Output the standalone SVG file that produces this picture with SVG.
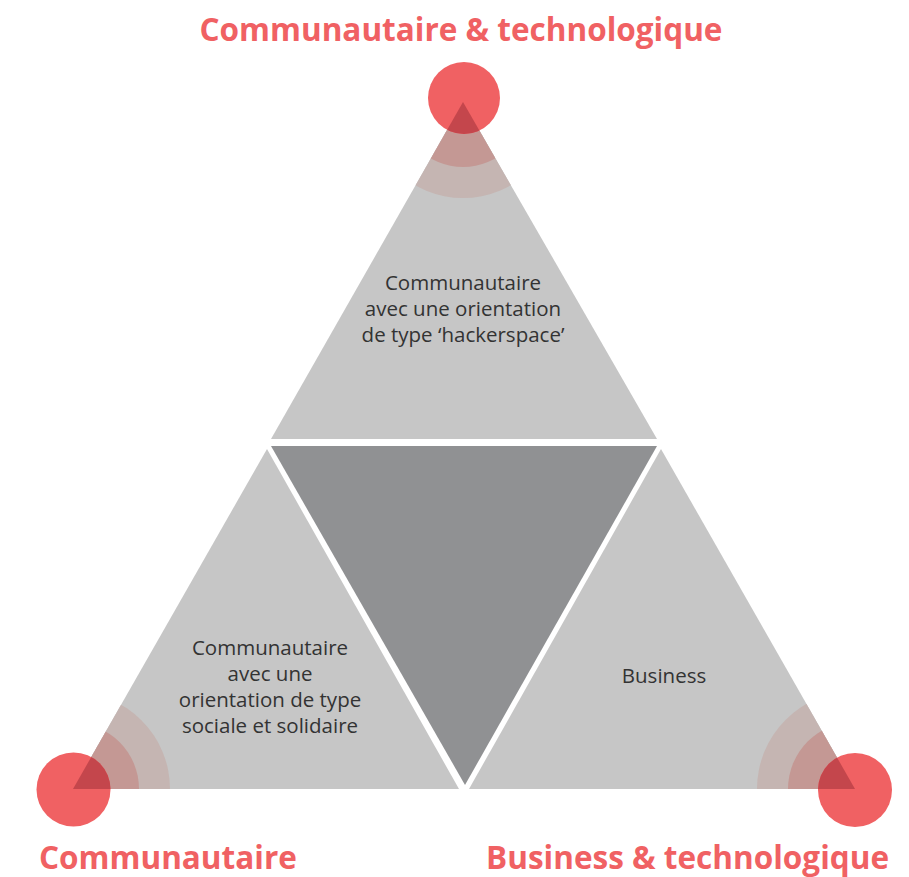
<svg xmlns="http://www.w3.org/2000/svg" width="909" height="877" viewBox="0 0 909 877">
<style>
.tri{fill:#c6c6c6}
.mid{fill:#909193}
.b1{fill:#c5b5b2}
.b2{fill:#c49894}
.tip{fill:#c4464c}
.dot{fill:#f06163}
.lbl{font-family:"Open Sans","Noto Sans",sans-serif;font-size:20.5px;fill:#333;text-anchor:middle}
.ttl{font-family:"Open Sans","Noto Sans",sans-serif;font-size:31.5px;font-weight:bold;fill:#f06163}
</style>
<defs>
<clipPath id="cTop"><polygon points="463,102 271,439 657,439"/></clipPath>
<clipPath id="cLeft"><polygon points="267,449 73,789 459,789"/></clipPath>
<clipPath id="cRight"><polygon points="661,449 469,789 855,789"/></clipPath>
</defs>
<rect width="909" height="877" fill="#fff"/>
<g id="node-top">
<polygon class="tri" points="463,102 271,439 657,439"/>
<g clip-path="url(#cTop)">
<circle class="b1" cx="463" cy="102" r="96"/>
<circle class="b2" cx="463" cy="102" r="65"/>
</g>
<circle class="dot" cx="464" cy="98" r="36"/>
<g clip-path="url(#cTop)"><circle class="tip" cx="464" cy="98" r="36"/></g>
<text class="lbl" x="463" y="290">Communautaire</text>
<text class="lbl" x="463" y="316">avec une orientation</text>
<text class="lbl" x="463" y="342">de type ‘hackerspace’</text>
</g>
<g id="node-center">
<polygon class="mid" points="271,446 657,446 465,785"/>
</g>
<g id="node-left">
<polygon class="tri" points="267,449 73,789 459,789"/>
<g clip-path="url(#cLeft)">
<circle class="b1" cx="73" cy="789" r="97"/>
<circle class="b2" cx="73" cy="789" r="66"/>
</g>
<circle class="dot" cx="73.5" cy="789.5" r="37"/>
<g clip-path="url(#cLeft)"><circle class="tip" cx="73.5" cy="789.5" r="37"/></g>
<text class="lbl" x="270" y="655">Communautaire</text>
<text class="lbl" x="270" y="681">avec une</text>
<text class="lbl" x="270" y="707">orientation de type</text>
<text class="lbl" x="270" y="733">sociale et solidaire</text>
</g>
<g id="node-right">
<polygon class="tri" points="661,449 469,789 855,789"/>
<g clip-path="url(#cRight)">
<circle class="b1" cx="855" cy="789" r="98"/>
<circle class="b2" cx="855" cy="789" r="67"/>
</g>
<circle class="dot" cx="855" cy="790" r="37"/>
<g clip-path="url(#cRight)"><circle class="tip" cx="855" cy="790" r="37"/></g>
<text class="lbl" x="664" y="683">Business</text>
</g>
<g id="titles">
<text class="ttl" x="461" y="41" text-anchor="middle">Communautaire &amp; technologique</text>
<text class="ttl" x="39" y="869">Communautaire</text>
<text class="ttl" x="889" y="869" text-anchor="end">Business &amp; technologique</text>
</g>
<g id="connectors"/>
</svg>
